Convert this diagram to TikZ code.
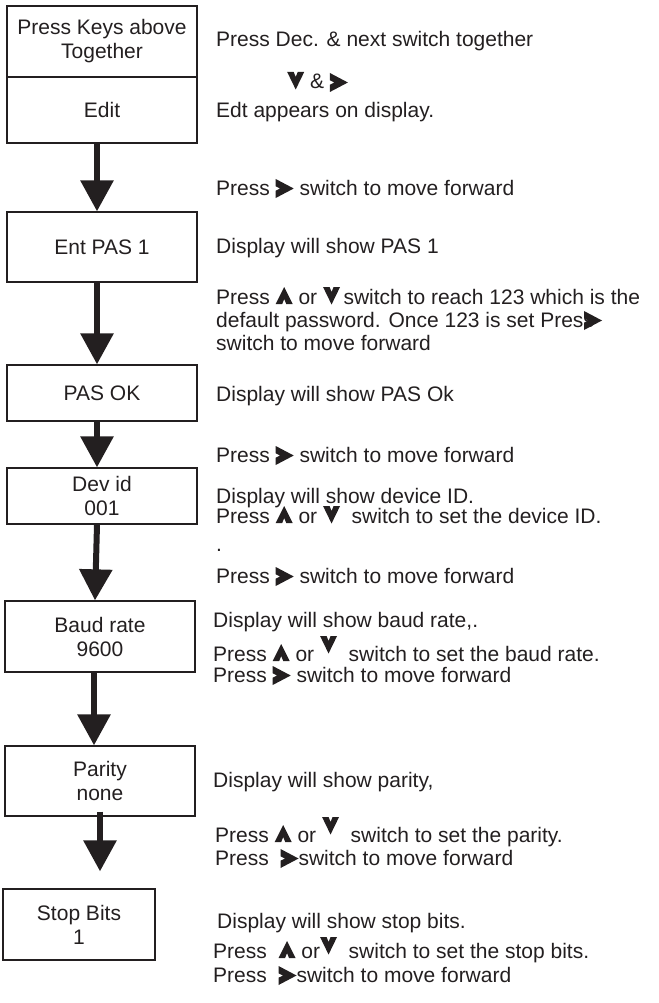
\documentclass[tikz,border=0pt]{standalone}
\usepackage{fontspec}
\setmainfont{Liberation Sans}
\usetikzlibrary{arrows.meta}
\definecolor{ink}{HTML}{231F20}

% Key glyphs: filled triangles with a small notch cut into the back edge
\newcommand\symdn[1][0pt]{\raisebox{#1}{\tikz[x=1pt,y=1pt,baseline=0pt]
  \fill[ink] (0,17) -- (6.5,17) -- (8.5,12) -- (10.5,17) -- (17,17) -- (8.5,-0.5) -- cycle;}}
\newcommand\symup[1][0pt]{\raisebox{#1}{\tikz[x=1pt,y=1pt,baseline=0pt]
  \fill[ink] (0,0) -- (6.5,0) -- (8.5,5) -- (10.5,0) -- (17,0) -- (8.5,17) -- cycle;}}
\newcommand\symrt[1][0pt]{\raisebox{#1}{\tikz[x=1pt,y=1pt,baseline=0pt]
  \fill[ink] (0,16) -- (18,6.5) -- (0,-3) -- (0,4.3) -- (4.5,6.5) -- (0,8.7) -- cycle;}}

\begin{document}
\begin{tikzpicture}[x=1pt,y=-1pt,
  box/.style={draw=ink, line width=1.3pt, minimum width=190pt, align=center,
    inner sep=0pt, font=\fontsize{21}{24}\selectfont, text=ink},
  note/.style={anchor=base west, inner sep=0pt,
    font=\fontsize{21}{23}\selectfont, text=ink},
  flow/.style={line width=6pt, draw=ink, -{Triangle[width=32pt,length=31pt]}}]
\useasboundingbox (0,0) rectangle (658,1003);

% menu boxes
\node[box, minimum height=71pt] (b1) at (102,41.5) {Press Keys above\\Together};
\node[box, minimum height=66pt] (b2) at (102,110) {Edit};
\node[box, minimum height=70pt] (b3) at (102,247) {Ent PAS 1};
\node[box, minimum height=56pt] (b4) at (102,393) {PAS OK};
\node[box, minimum height=56pt] (b5) at (102,496) {Dev id\\001};
\node[box, minimum height=71pt] (b6) at (100,636.5) {Baud rate\\9600};
\node[box, minimum height=70pt] (b7) at (100,781) {Parity\\none};
\node[box, minimum height=71pt, minimum width=152pt] (b8) at (79,924.5) {Stop Bits\\1};

% flow arrows
\draw[flow] ([xshift=-5pt]b2.south) -- ([xshift=-5pt]b3.north);
\draw[flow] ([xshift=-5pt]b3.south) -- ([xshift=-5pt]b4.north);
\draw[flow] ([xshift=-5pt]b4.south) -- ([xshift=-5pt]b5.north);
\draw[flow] ([xshift=-5pt]b5.south) -- ([xshift=-5pt]b6.north);
\draw[flow] ([xshift=-6pt]b6.south) -- ([xshift=-6pt]b7.north);
\coordinate (e7) at ([xshift=21pt,yshift=17pt]b8.north);
\draw[flow] ([yshift=5pt]b7.south) -- (e7);

% instructions, one line per node
\node[note] (t1) at (216,47) {Press Dec. \& next switch together};
\node[note] (t2) at (287,89) {\symdn\ \& \symrt};
\node[note] (t3) at (216,118) {Edt appears on display.};
\node[note] (t4) at (216,195) {Press \symrt\ switch to move forward};
\node[note] (t5) at (216,253) {Display will show PAS 1};
\node[note] (t6a) at (216,304) {Press \symup\ or \symdn\,switch to reach 123 which is the};
\node[note] (t6b) at (216,327) {default password. Once 123 is set Press\kern-10pt\symrt};
\node[note] (t6c) at (216,350) {switch to move forward};
\node[note] (t7) at (216,401) {Display will show PAS Ok};
\node[note] (t8) at (216,462) {Press \symrt\ switch to move forward};
\node[note] (t9a) at (216,503) {Display will show device ID.};
\node[note] (t9b) at (216,523) {Press \symup\ or \symdn\ \ switch to set the device ID.};
\node[note] (t10) at (216,551) {.};
\node[note] (t11) at (216,583) {Press \symrt\ switch to move forward};
\node[note] (t12) at (213,627) {Display will show baud rate,.};
\node[note] (t13a) at (213,661) {Press \symup\ or \symdn[8pt]\ \ switch to set the baud rate.};
\node[note] (t13b) at (213,682) {Press \symrt\ switch to move forward};
\node[note] (t14) at (213,787) {Display will show parity,};
\node[note] (t15a) at (215,842) {Press \symup\ or \symdn[8pt]\ \ switch to set the parity.};
\node[note] (t15b) at (215,865) {Press \ \symrt switch to move forward};
\node[note] (t16) at (217,928) {Display will show stop bits.};
\node[note] (t17a) at (213,958) {Press \ \symup\ or\symdn[4pt]\ \ switch to set the stop bits.};
\node[note] (t17b) at (213,982) {Press \ \symrt switch to move forward};
\end{tikzpicture}
\end{document}
